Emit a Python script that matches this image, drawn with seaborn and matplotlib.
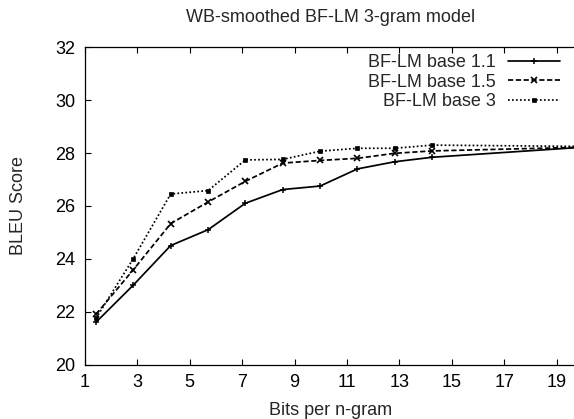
import numpy as np
import pandas as pd
import matplotlib
matplotlib.use("Agg")
import matplotlib.pyplot as plt
from matplotlib.lines import Line2D
import seaborn as sns

# data
bits = [1.42, 2.84, 4.27, 5.7, 7.12, 8.55, 9.97, 11.4, 12.82, 14.25, 20.0]
base_11 = [21.6, 23.0, 24.5, 25.1, 26.1, 26.62, 26.75, 27.4, 27.67, 27.84, 28.22]
base_15 = [21.9, 23.58, 25.33, 26.15, 26.93, 27.62, 27.72, 27.8, 27.99, 28.08, 28.22]
base_3 = [21.75, 24.0, 26.45, 26.58, 27.74, 27.76, 28.07, 28.18, 28.18, 28.3, 28.25]

labels = ["BF-LM base 1.1", "BF-LM base 1.5", "BF-LM base 3"]
x_ticks = [1, 3, 5, 7, 9, 11, 13, 15, 17, 19]
y_ticks = [20, 22, 24, 26, 28, 30, 32]

df = pd.DataFrame({
    "bits": bits * 3,
    "bleu": base_11 + base_15 + base_3,
    "model": [labels[0]] * len(bits) + [labels[1]] * len(bits) + [labels[2]] * len(bits),
})

sns.set_style("ticks")
plt.rcParams["font.family"] = ["Liberation Sans", "DejaVu Sans"]
fs = 13

fig = plt.figure(figsize=(5.74, 4.19), dpi=100)
ax = fig.add_axes([85 / 574, 1 - 364.5 / 419, (576 - 85) / 574, (364.5 - 47.3) / 419])

styles = [
    dict(linestyle="-", marker="+", markersize=4.5, markeredgewidth=1.1),
    dict(linestyle=(0, (3, 1.5)), marker="x", markersize=4, markeredgewidth=1.2),
    dict(linestyle=(0, (1, 1.3)), marker="s", markersize=3.5, markeredgewidth=0.5),
]
for lab, st in zip(labels, styles):
    sub = df[df["model"] == lab]
    sns.lineplot(data=sub, x="bits", y="bleu", ax=ax, color="black",
                 markeredgecolor="black", markerfacecolor="black",
                 linewidth=1.25, legend=False, **st)

ax.set_xlim(1, 1 + (576 - 85) / 26.2)
ax.set_ylim(20, 32)
ax.set_xticks(x_ticks)
ax.set_yticks(y_ticks)
ax.tick_params(direction="in", length=4, width=0.8, top=True, right=False,
               labelsize=fs, pad=7, colors="black")
for s in ax.spines.values():
    s.set_linewidth(0.9)
    s.set_color("black")
ax.spines["right"].set_visible(False)

ax.set_xlabel("Bits per n-gram", fontsize=fs, labelpad=8)
ax.set_ylabel("BLEU Score", fontsize=fs, labelpad=20)
ax.set_title("WB-smoothed BF-LM 3-gram model", fontsize=fs, pad=18)

handles = [Line2D([], [], color="black", linewidth=1.25, markeredgecolor="black",
                  markerfacecolor="black", **st) for st in styles]
leg = ax.legend(handles, labels, loc="upper right",
                bbox_to_anchor=(560 / 574, 1 - 54 / 419),
                bbox_transform=fig.transFigure, markerfirst=False, frameon=False,
                fontsize=fs, handlelength=2.9, handletextpad=0.65,
                labelspacing=0.15, borderpad=0, borderaxespad=0)

fig.savefig("out.png", dpi=100)
